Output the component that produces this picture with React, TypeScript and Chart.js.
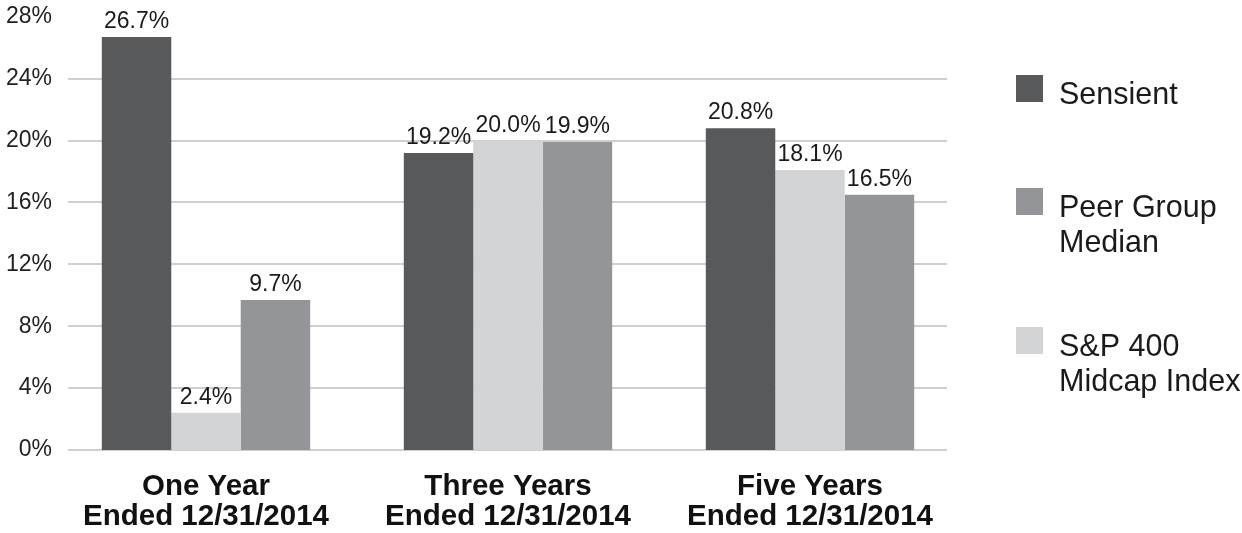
import { useEffect, useRef } from 'react';
import { Chart, registerables } from 'chart.js';

Chart.register(...registerables);

const categories = [
    ['One Year', 'Ended 12/31/2014'],
    ['Three Years', 'Ended 12/31/2014'],
    ['Five Years', 'Ended 12/31/2014'],
];
const sensient = [26.7, 19.2, 20.8];
const spMidcap = [2.4, 20.0, 18.1];
const peerMedian = [9.7, 19.9, 16.5];

const seriesNames = [['Sensient'], ['S&P 400', 'Midcap Index'], ['Peer Group', 'Median']];
const seriesColors = ['#58595b', '#d3d4d6', '#939598'];
const legendOrder = [0, 2, 1];

const yMax = 28;
const yStep = 4;

const FONT = '"Liberation Sans", Arial, sans-serif';

const gridPlugin = {
    id: 'customGrid',
    beforeDatasetsDraw(chart: any) {
        const y = chart.scales.y;
        const ctx = chart.ctx;
        ctx.save();
        ctx.strokeStyle = '#cfcfcf';
        ctx.lineWidth = 2;
        y.ticks.forEach((t: any) => {
            if (t.value >= yMax) return;
            const py = Math.round(y.getPixelForValue(t.value));
            ctx.beginPath();
            ctx.moveTo(68, py);
            ctx.lineTo(947, py);
            ctx.stroke();
        });
        ctx.restore();
    },
};

const valueLabels = {
    id: 'valueLabels',
    afterDatasetsDraw(chart: any) {
        const ctx = chart.ctx;
        ctx.save();
        ctx.font = `23px ${FONT}`;
        ctx.fillStyle = '#1a1a1a';
        ctx.textAlign = 'center';
        ctx.textBaseline = 'alphabetic';
        chart.data.datasets.forEach((ds: any, i: number) => {
            const meta = chart.getDatasetMeta(i);
            meta.data.forEach((bar: any, j: number) => {
                ctx.fillText(ds.data[j].toFixed(1) + '%', bar.x, bar.y - 9);
            });
        });
        ctx.restore();
    },
};

// legend drawn on the right, in the order Sensient / Peer / S&P
const sideLegend = {
    id: 'sideLegend',
    afterDraw(chart: any) {
        const ctx = chart.ctx;
        const boxTops = [75, 188, 327];
        ctx.save();
        ctx.font = `30.5px ${FONT}`;
        ctx.textAlign = 'left';
        ctx.textBaseline = 'alphabetic';
        legendOrder.forEach((idx, k) => {
            const top = boxTops[k];
            ctx.fillStyle = seriesColors[idx];
            ctx.fillRect(1016, top, 27, 27);
            ctx.fillStyle = '#1a1a1a';
            seriesNames[idx].forEach((line, n) => {
                ctx.fillText(line, 1059, top + 29 + n * 35);
            });
        });
        ctx.restore();
    },
};

const App = () => {
    const chartRef = useRef<HTMLCanvasElement | null>(null);

    useEffect(() => {
        document.body.style.margin = '0';
        if (!chartRef.current) return;
        const ctx = chartRef.current.getContext('2d');
        if (!ctx) return;

        const myChart = new Chart(ctx, {
            type: 'bar',
            data: {
                labels: categories,
                datasets: [sensient, spMidcap, peerMedian].map((d, i) => ({
                    label: seriesNames[i].join(' '),
                    data: d,
                    backgroundColor: seriesColors[i],
                    borderWidth: 0,
                    categoryPercentage: 0.69,
                    barPercentage: 1.0,
                })),
            },
            options: {
                responsive: true,
                maintainAspectRatio: false,
                animation: false,
                layout: { padding: { left: 0, right: 281, top: 13, bottom: 0 } },
                plugins: {
                    legend: { display: false },
                    tooltip: { enabled: false },
                },
                scales: {
                    x: {
                        grid: { display: false },
                        border: { display: false },
                        ticks: {
                            color: '#111',
                            font: { family: FONT, size: 29.5, weight: 'bold', lineHeight: 1.02 },
                            padding: 14,
                            maxRotation: 0,
                            autoSkip: false,
                        },
                        afterFit: (s: any) => { s.height = 83; },
                    },
                    y: {
                        min: 0,
                        max: yMax,
                        grid: { display: false, drawTicks: false },
                        border: { display: false },
                        ticks: {
                            stepSize: yStep,
                            color: '#222',
                            font: { family: FONT, size: 23 },
                            padding: 3,
                            callback: (v: any) => v + '%',
                        },
                        afterFit: (s: any) => { s.width = 55; },
                    },
                },
            },
            plugins: [gridPlugin, valueLabels, sideLegend],
        });

        return () => {
            myChart.destroy();
        };
    }, []);

    return (
        <div style={{ position: 'relative', width: 1242, height: 533, background: '#fff' }}>
            <canvas ref={chartRef}></canvas>
        </div>
    );
};

export default App;
